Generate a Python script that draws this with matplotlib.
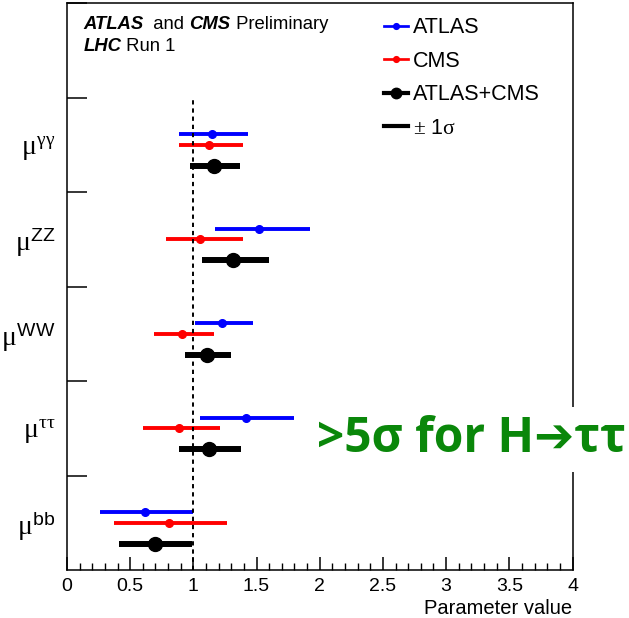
import matplotlib
matplotlib.use("Agg")
import matplotlib.pyplot as plt
from matplotlib.lines import Line2D
from matplotlib.ticker import MultipleLocator

plt.rcParams['font.family'] = ['Liberation Sans', 'DejaVu Sans']
plt.rcParams['mathtext.fontset'] = 'custom'
plt.rcParams['mathtext.rm'] = 'Liberation Serif'
plt.rcParams['mathtext.it'] = 'Liberation Serif'
plt.rcParams['mathtext.sf'] = 'Liberation Sans'

# channels from bottom to top
channels = [r'$\mu^{\mathsf{bb}}$', r'$\mu^{\tau\tau}$', r'$\mu^{\mathsf{WW}}$',
            r'$\mu^{\mathsf{ZZ}}$', r'$\mu^{\gamma\gamma}$']

# central values and -/+ 1 sigma bounds (bb, tautau, WW, ZZ, gammagamma)
atlas_mu = [0.62, 1.42, 1.23, 1.52, 1.15]
atlas_lo = [0.26, 1.05, 1.01, 1.17, 0.89]
atlas_hi = [1.00, 1.80, 1.47, 1.92, 1.43]

cms_mu = [0.81, 0.89, 0.91, 1.05, 1.12]
cms_lo = [0.37, 0.60, 0.69, 0.78, 0.89]
cms_hi = [1.27, 1.21, 1.16, 1.39, 1.39]

comb_mu = [0.70, 1.12, 1.11, 1.31, 1.16]
comb_lo = [0.41, 0.89, 0.93, 1.07, 0.97]
comb_hi = [0.99, 1.38, 1.30, 1.60, 1.37]

fig = plt.figure(figsize=(6.29, 6.18), dpi=100)
ax = fig.add_axes([67/629, 48/618, 505.5/629, 567/618])

series = [
    (atlas_mu, atlas_lo, atlas_hi, 0.61, 'blue', 2.8, 5.5, 'ATLAS'),
    (cms_mu, cms_lo, cms_hi, 0.50, 'red', 2.8, 5.5, 'CMS'),
    (comb_mu, comb_lo, comb_hi, 0.28, 'black', 4.3, 10, 'ATLAS+CMS'),
]
handles = []
for mu, lo, hi, off, col, lw, ms, lab in series:
    for i in range(len(mu)):
        ax.plot([lo[i], hi[i]], [i + off, i + off], color=col, lw=lw,
                solid_capstyle='butt')
    ys = [i + off for i in range(len(mu))]
    ax.plot(mu, ys, 'o', color=col, ms=ms, lw=0)
    handles.append(Line2D([], [], color=col, lw=lw * 0.7, marker='o',
                          ms=ms * 0.75, label=lab))
handles.append(Line2D([], [], color='black', lw=3, label=r'$\pm$ 1$\sigma$'))

ax.plot([1, 1], [0, 5], color='black', lw=1.4, dashes=(2.2, 2.0))

ax.set_xlim(0, 4)
ax.set_ylim(0, 6)
ax.xaxis.set_major_locator(MultipleLocator(0.5))
ax.xaxis.set_minor_locator(MultipleLocator(0.1))
ax.set_xticks([0, 0.5, 1, 1.5, 2, 2.5, 3, 3.5, 4])
ax.set_xticklabels(['0', '0.5', '1', '1.5', '2', '2.5', '3', '3.5', '4'])
ax.tick_params(axis='x', which='major', direction='in', length=9.5, width=1.1,
               labelsize=14, pad=6)
ax.tick_params(axis='x', which='minor', direction='in', length=5, width=1.0)

ax.set_yticks([1, 2, 3, 4, 5, 6])
ax.set_yticklabels([])
ax.set_yticks([0.5, 1.5, 2.5, 3.5, 4.5], minor=True)
ax.set_yticklabels(channels, minor=True)
ax.tick_params(axis='y', which='major', direction='in', length=14.5, width=1.1)
ax.tick_params(axis='y', which='minor', length=0, labelsize=20, pad=8)

for s in ax.spines.values():
    s.set_linewidth(1.1)

ax.set_xlabel('Parameter value', fontsize=14.5, loc='right', labelpad=2.5)

t1 = ax.text(0.032, 0.947, 'ATLAS', transform=ax.transAxes, fontsize=13.3,
             fontweight='bold', fontstyle='italic', va='bottom')
t2 = ax.annotate('  and ', xy=(1, 0), xycoords=t1, fontsize=13.3, va='bottom')
t3 = ax.annotate('CMS', xy=(1, 0), xycoords=t2, fontsize=13.3,
                 fontweight='bold', fontstyle='italic', va='bottom')
ax.annotate(' Preliminary', xy=(1, 0), xycoords=t3, fontsize=13.3, va='bottom')
t5 = ax.text(0.032, 0.909, 'LHC', transform=ax.transAxes, fontsize=13.3,
             fontweight='bold', fontstyle='italic', va='bottom')
ax.annotate(' Run 1', xy=(1, 0), xycoords=t5, fontsize=13.3, va='bottom')

leg = ax.legend(handles=handles, loc='upper left', bbox_to_anchor=(0.61, 0.99),
                frameon=False, fontsize=15.5, handlelength=1.1, handletextpad=0.25,
                labelspacing=0.58, borderaxespad=0)

fig.text(317/629, 1 - 452/618, '>5σ for H➔ττ', fontsize=34.5, fontweight='bold',
         color='#0a870a', family=['Open Sans', 'DejaVu Sans'], va='baseline',
         bbox=dict(facecolor='white', edgecolor='none', pad=6))

fig.savefig('out.png', dpi=100)
